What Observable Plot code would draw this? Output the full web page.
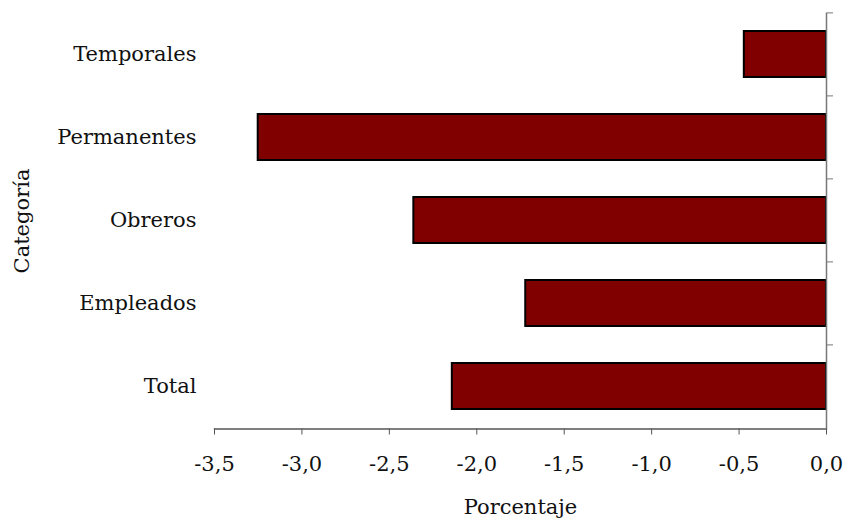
<!DOCTYPE html>
<html>
<head>
<meta charset="utf-8">
<script src="https://cdn.jsdelivr.net/npm/d3@7"></script>
<script src="https://cdn.jsdelivr.net/npm/@observablehq/plot@0.6"></script>
<style>
  body { margin: 0; background: #fff; }
  #chart svg { font-family: "DejaVu Serif", serif; }
</style>
</head>
<body>
<div id="chart"></div>
<script>
const categories = ["Temporales", "Permanentes", "Obreros", "Empleados", "Total"];
const values = [-0.47, -3.25, -2.36, -1.72, -2.14];
const xTicks = [-3.5, -3.0, -2.5, -2.0, -1.5, -1.0, -0.5, 0.0];

const data = categories.map((c, i) => ({categoria: c, valor: values[i]}));
const fmt = d => d.toFixed(1).replace(".", ",");

const height = 520, marginTop = 12.5, marginBottom = 91.5;
const paddingInner = 0.44;
const step = (height - marginTop - marginBottom) / categories.length;

const chart = Plot.plot({
  width: 848,
  height,
  marginLeft: 214,
  marginRight: 22,
  marginTop,
  marginBottom,
  style: {fontFamily: "DejaVu Serif, serif", fontSize: "21px", color: "#111", background: "#fff"},
  x: {domain: [-3.5, 0]},
  y: {domain: categories, paddingInner, paddingOuter: paddingInner / 2},
  marks: [
    Plot.barX(data, {x: "valor", y: "categoria", fill: "#800000", stroke: "#000", strokeWidth: 2}),
    Plot.frame({anchor: "bottom", stroke: "#555", strokeWidth: 1.3}),
    Plot.ruleX([0], {stroke: "#777", strokeWidth: 1.5}),
    Plot.axisX({ticks: xTicks, tickFormat: fmt, tickSize: 6, tickPadding: 21, stroke: "#555", fontSize: 21, label: null}),
    Plot.axisY({anchor: "left", tickSize: 0, tickPadding: 18, fontSize: 21, label: null}),
    Plot.axisY({anchor: "right", tickFormat: () => "", tickSize: 6, dy: -step / 2, stroke: "#777", label: null}),
    Plot.text(["Porcentaje"], {frameAnchor: "bottom", lineAnchor: "middle", dy: 78, fontSize: 21, fill: "#111"}),
    Plot.text(["Categoría"], {frameAnchor: "left", textAnchor: "middle", dx: -192, rotate: -90, fontSize: 21, fill: "#111"})
  ]
});
document.getElementById("chart").appendChild(chart);
</script>
</body>
</html>
